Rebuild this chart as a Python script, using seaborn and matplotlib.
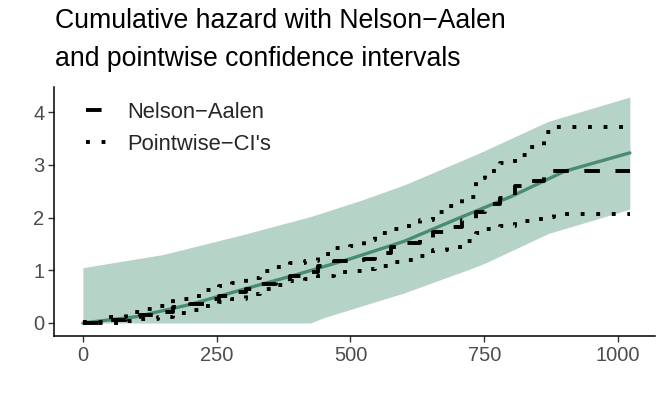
import numpy as np
import pandas as pd
import matplotlib
matplotlib.use("Agg")
import matplotlib.pyplot as plt
import seaborn as sns

# event times and step values
times = [0, 45, 80, 107, 140, 168, 200, 228, 255, 279, 305, 331, 360, 387, 415, 439,
         470, 499, 525, 546, 575, 602, 630, 654, 680, 708, 735, 751, 780, 807, 835, 862, 880]
nelson_aalen = [0, 0.05, 0.11, 0.16, 0.21, 0.30, 0.36, 0.45, 0.51, 0.58, 0.64, 0.74, 0.83, 0.90, 0.97, 1.08,
                1.18, 1.20, 1.22, 1.32, 1.45, 1.52, 1.60, 1.72, 1.83, 1.95, 2.11, 2.25, 2.38, 2.61, 2.70, 2.88, 2.88]
ci_upper = [0.02, 0.12, 0.20, 0.27, 0.33, 0.45, 0.52, 0.62, 0.70, 0.76, 0.85, 0.98, 1.06, 1.13, 1.18, 1.31,
            1.42, 1.47, 1.57, 1.70, 1.78, 1.85, 1.96, 2.10, 2.22, 2.40, 2.75, 2.88, 3.04, 3.18, 3.35, 3.62, 3.72]
ci_lower = [0, 0, 0.03, 0.07, 0.12, 0.19, 0.24, 0.32, 0.40, 0.46, 0.55, 0.64, 0.73, 0.80, 0.83, 0.90,
            0.97, 0.98, 1.02, 1.08, 1.15, 1.20, 1.28, 1.38, 1.45, 1.56, 1.70, 1.78, 1.84, 1.94, 1.97, 2.02, 2.06]
t_end = 1022

# smooth estimate with band
smooth_t = [0, 100, 200, 300, 400, 500, 600, 700, 800, 900, 1022]
smooth_h = [0, 0.12, 0.35, 0.64, 0.92, 1.22, 1.55, 1.98, 2.40, 2.88, 3.23]
band_t = [0, 150, 300, 425, 450, 520, 600, 730, 750, 870, 1022]
band_hi = [1.05, 1.30, 1.68, 2.02, 2.10, 2.33, 2.62, 3.18, 3.27, 3.83, 4.29]
band_lo = [0, 0, 0, 0, 0.10, 0.32, 0.57, 1.05, 1.13, 1.70, 2.16]

steps = pd.DataFrame({"time": times + [t_end],
                      "na": nelson_aalen + [nelson_aalen[-1]],
                      "hi": ci_upper + [ci_upper[-1]],
                      "lo": ci_lower + [ci_lower[-1]]})
smooth = pd.DataFrame({"time": smooth_t, "H": smooth_h})

sns.set_theme(style="ticks")
plt.rcParams["font.family"] = ["Liberation Sans", "DejaVu Sans"]

fig = plt.figure(figsize=(6.64, 3.99), dpi=100)
ax = fig.add_axes([54 / 664, 1 - 336 / 399, 601 / 664, 249 / 399])

green = "#4a8c73"
ax.fill_between(band_t, band_lo, band_hi, color="#b6d3c8", linewidth=0, zorder=1)
sns.lineplot(data=smooth, x="time", y="H", ax=ax, color=green, linewidth=2.4, zorder=2)

sns.lineplot(data=steps, x="time", y="na", ax=ax, color="black", linewidth=2.8,
             drawstyle="steps-post", linestyle=(0, (4, 4)), dash_capstyle="butt", zorder=3)
for col in ["hi", "lo"]:
    sns.lineplot(data=steps, x="time", y=col, ax=ax, color="black", linewidth=2.8,
                 drawstyle="steps-post", linestyle=(0, (1, 3)), dash_capstyle="butt", zorder=3)

ax.set_xlim(-54, 1069)
ax.set_ylim(-0.247, 4.48)
ax.set_xticks([0, 250, 500, 750, 1000])
ax.set_yticks([0, 1, 2, 3, 4])
ax.set_xlabel("")
ax.set_ylabel("")
sns.despine(ax=ax)
for s in ["left", "bottom"]:
    ax.spines[s].set_linewidth(1.1)
    ax.spines[s].set_color("black")
ax.tick_params(axis="both", length=4, width=1.0, color="#333333",
               labelsize=14.5, labelcolor="#4d4d4d", pad=3)

lines = ax.get_lines()
leg = ax.legend([lines[1], lines[2]], ["Nelson\u2212Aalen", "Pointwise\u2212CI's"],
                loc="upper left", bbox_to_anchor=(86 / 664, 1 - 102 / 399),
                bbox_transform=fig.transFigure, frameon=False, fontsize=15.8,
                handlelength=1.0, handletextpad=0.9, labelspacing=0.5,
                borderpad=0, borderaxespad=0)

fig.text(55 / 664, 1 - 8 / 399, "Cumulative hazard with Nelson\u2212Aalen\nand pointwise confidence intervals",
         ha="left", va="top", fontsize=19.2, linespacing=1.62, color="black")

fig.savefig("out.png", dpi=100)
